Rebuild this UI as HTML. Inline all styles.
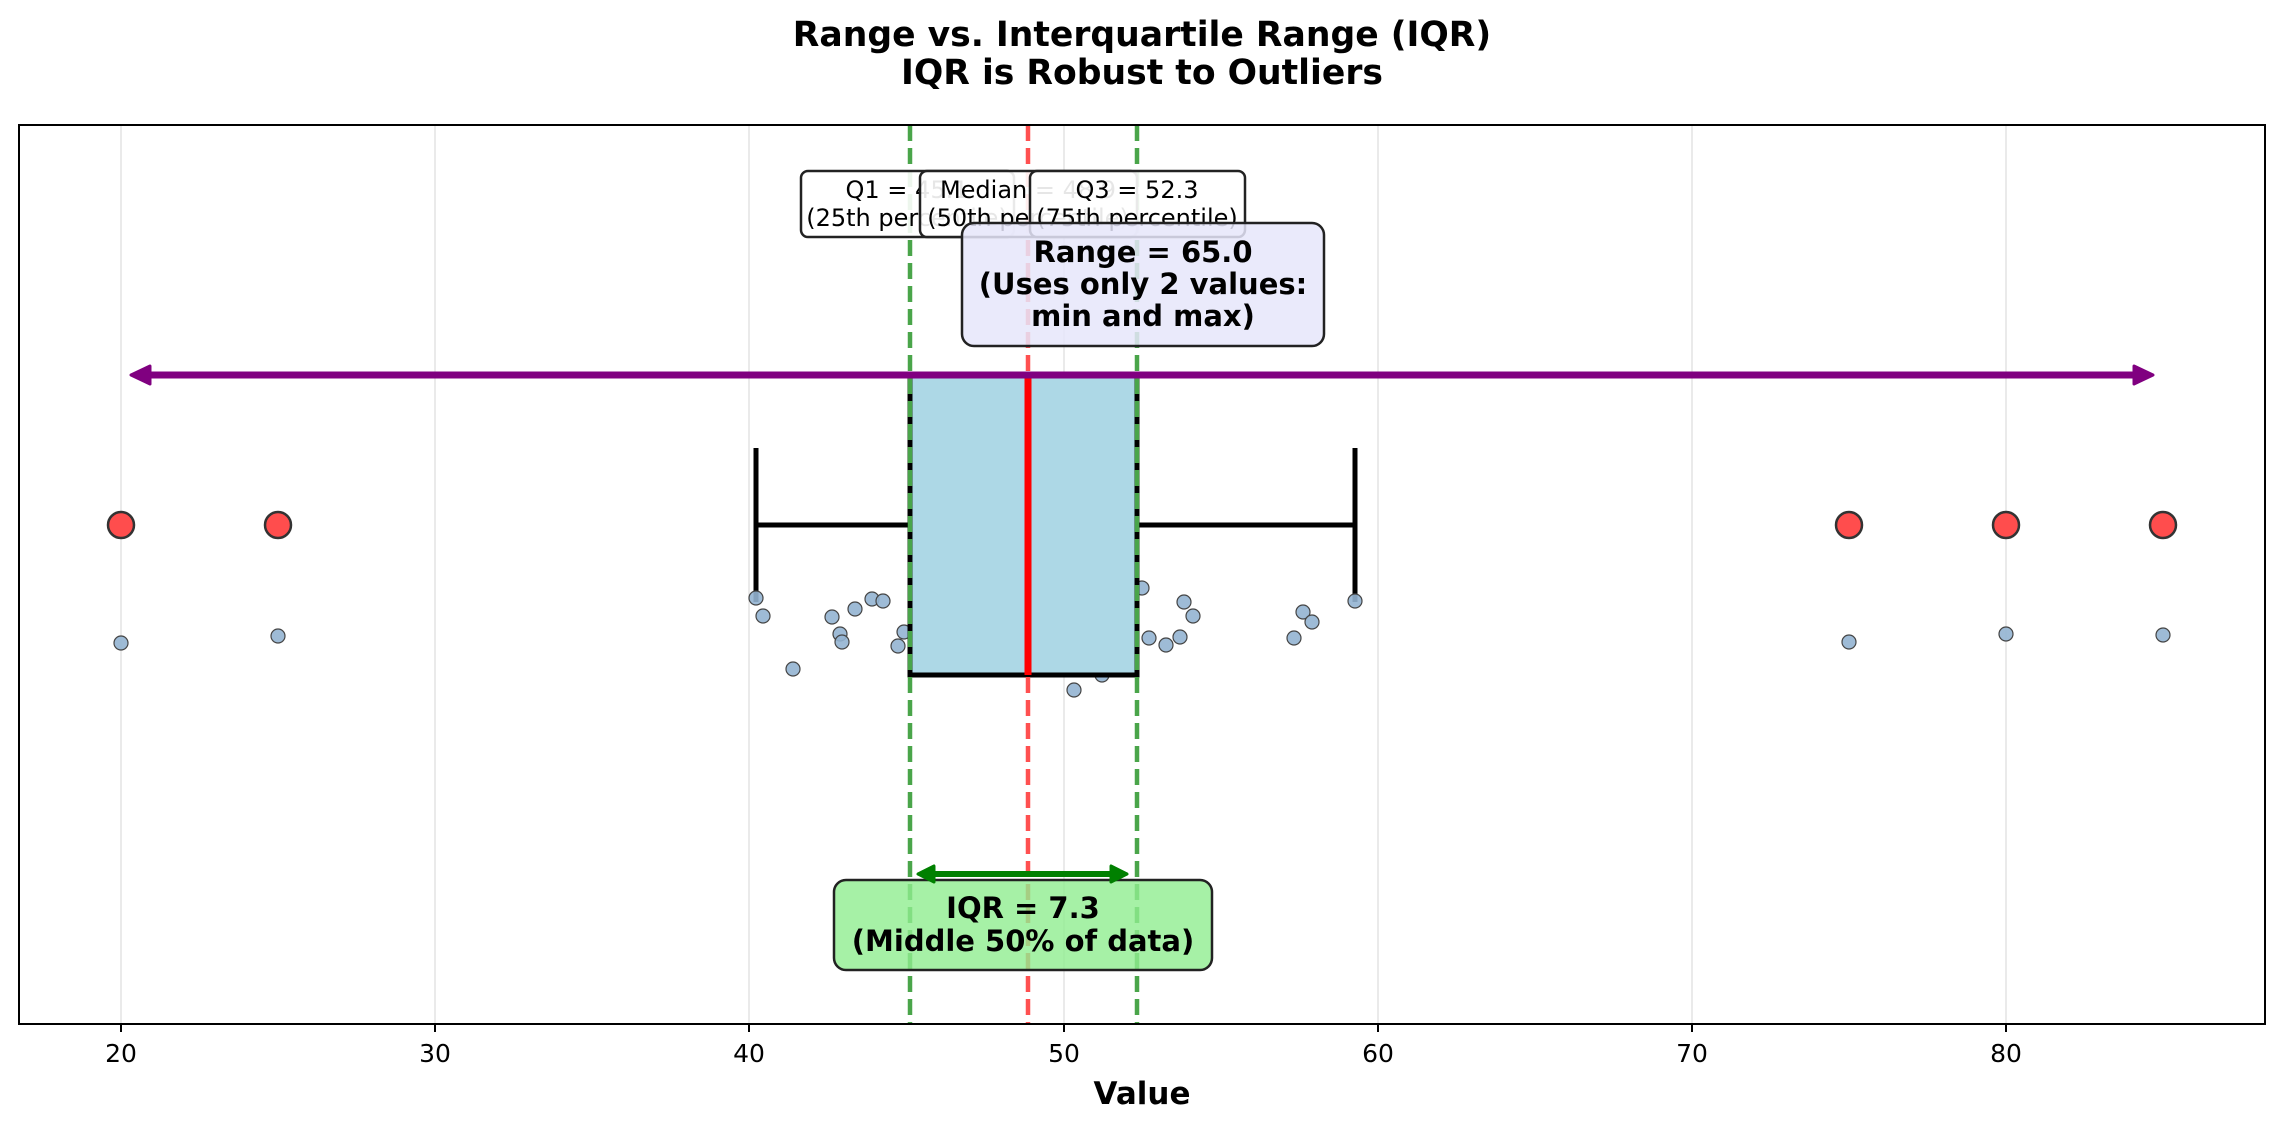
<!DOCTYPE html>
<html><head><meta charset="utf-8"><style>html,body{margin:0;padding:0;background:#fff}svg{display:block}</style></head>
<body>
<svg width="2284" height="1130" viewBox="0 0 2284 1130" xmlns="http://www.w3.org/2000/svg" font-family="DejaVu Sans, Liberation Sans, sans-serif">
<rect width="2284" height="1130" fill="#fff"/>
<text x="1142" y="46" font-size="34.6" font-weight="bold" text-anchor="middle">Range vs. Interquartile Range (IQR)</text>
<text x="1142" y="84" font-size="34.6" font-weight="bold" text-anchor="middle">IQR is Robust to Outliers</text>
<!-- grid -->
<g stroke="#e3e3e3" stroke-width="1.5">
<line x1="121" y1="125" x2="121" y2="1024"/><line x1="435" y1="125" x2="435" y2="1024"/><line x1="749" y1="125" x2="749" y2="1024"/><line x1="1064" y1="125" x2="1064" y2="1024"/><line x1="1378" y1="125" x2="1378" y2="1024"/><line x1="1692" y1="125" x2="1692" y2="1024"/><line x1="2006" y1="125" x2="2006" y2="1024"/>
</g>
<!-- whiskers -->
<g stroke="#000" stroke-width="5">
<line x1="756" y1="525" x2="910" y2="525"/><line x1="1137" y1="525" x2="1355" y2="525"/>
<line x1="756" y1="448" x2="756" y2="602"/><line x1="1355" y1="448" x2="1355" y2="602"/>
</g>
<!-- scatter -->
<g fill="#94b4d2" stroke="#444" stroke-width="1.2" fill-opacity="0.9">
<circle cx="756" cy="598" r="7"/><circle cx="763" cy="616" r="7"/><circle cx="832" cy="617" r="7"/><circle cx="855" cy="609" r="7"/><circle cx="872" cy="599" r="7"/><circle cx="883" cy="601" r="7"/><circle cx="840" cy="634" r="7"/><circle cx="842" cy="642" r="7"/><circle cx="793" cy="669" r="7"/><circle cx="898" cy="646" r="7"/><circle cx="904" cy="632" r="7"/><circle cx="1142" cy="588" r="7"/><circle cx="1184" cy="602" r="7"/><circle cx="1193" cy="616" r="7"/><circle cx="1149" cy="638" r="7"/><circle cx="1166" cy="645" r="7"/><circle cx="1180" cy="637" r="7"/><circle cx="1303" cy="612" r="7"/><circle cx="1312" cy="622" r="7"/><circle cx="1294" cy="638" r="7"/><circle cx="1355" cy="601" r="7"/><circle cx="1074" cy="690" r="7"/><circle cx="1102" cy="675" r="7"/>
<circle cx="121" cy="643" r="7"/><circle cx="278" cy="636" r="7"/><circle cx="1849" cy="642" r="7"/><circle cx="2006" cy="634" r="7"/><circle cx="2163" cy="635" r="7"/>
</g>
<!-- box -->
<rect x="910" y="376" width="227" height="299" fill="#add8e6" stroke="#000" stroke-width="5"/>
<!-- outliers -->
<g fill="#ff4d4d" stroke="#333" stroke-width="2.5">
<circle cx="121" cy="525" r="13"/><circle cx="278" cy="525" r="13"/><circle cx="1849" cy="525" r="13"/><circle cx="2006" cy="525" r="13"/><circle cx="2163" cy="525" r="13"/>
</g>
<!-- dashed lines -->
<g stroke-width="4.5" stroke-dasharray="16,7" fill="none">
<line x1="910" y1="125" x2="910" y2="1024" stroke="#4aa54a"/>
<line x1="1137" y1="125" x2="1137" y2="1024" stroke="#4aa54a"/>
<line x1="1028" y1="125" x2="1028" y2="1024" stroke="#ff5050"/>
</g>
<line x1="1028" y1="376" x2="1028" y2="675" stroke="#ff0000" stroke-width="7"/>
<!-- purple arrow -->
<line x1="140" y1="375" x2="2144" y2="375" stroke="#800080" stroke-width="7"/>
<polygon points="131,375 150,366 150,384" fill="#800080" stroke="#800080" stroke-width="3" stroke-linejoin="round"/>
<polygon points="2153,375 2134,366 2134,384" fill="#800080" stroke="#800080" stroke-width="3" stroke-linejoin="round"/>
<!-- quartile labels -->
<g font-size="24" text-anchor="middle">
<rect x="801" y="171" width="213" height="66" rx="7" fill="#fff" fill-opacity="0.9" stroke="#222" stroke-width="2.5"/>
<text x="907" y="198">Q1 = 45.1</text><text x="907" y="226">(25th percentile)</text>
<rect x="920" y="171" width="217" height="66" rx="7" fill="#fff" fill-opacity="0.9" stroke="#222" stroke-width="2.5"/>
<text x="1028" y="198">Median = 48.9</text><text x="1028" y="226">(50th percentile)</text>
<rect x="1030" y="171" width="215" height="66" rx="7" fill="#fff" fill-opacity="0.9" stroke="#222" stroke-width="2.5"/>
<text x="1137" y="198">Q3 = 52.3</text><text x="1137" y="226">(75th percentile)</text>
</g>
<!-- range box -->
<rect x="962" y="223" width="362" height="123" rx="12" fill="#e6e6fa" fill-opacity="0.85" stroke="#222" stroke-width="2.5"/>
<g font-size="29" font-weight="bold" text-anchor="middle">
<text x="1143" y="262">Range = 65.0</text><text x="1143" y="294">(Uses only 2 values:</text><text x="1143" y="326">min and max)</text>
</g>
<!-- IQR -->
<rect x="834" y="880" width="378" height="90" rx="12" fill="#90ee90" fill-opacity="0.8" stroke="#222" stroke-width="2.5"/>
<line x1="926" y1="874" x2="1119" y2="874" stroke="#008000" stroke-width="6"/>
<polygon points="918,874 934,866 934,882" fill="#008000" stroke="#008000" stroke-width="3" stroke-linejoin="round"/>
<polygon points="1127,874 1111,866 1111,882" fill="#008000" stroke="#008000" stroke-width="3" stroke-linejoin="round"/>
<g font-size="29" font-weight="bold" text-anchor="middle">
<text x="1023" y="918">IQR = 7.3</text><text x="1023" y="951">(Middle 50% of data)</text>
</g>
<!-- axes -->
<rect x="19" y="125" width="2246" height="899" fill="none" stroke="#000" stroke-width="2"/>
<g stroke="#000" stroke-width="2">
<line x1="121" y1="1024" x2="121" y2="1032"/><line x1="435" y1="1024" x2="435" y2="1032"/><line x1="749" y1="1024" x2="749" y2="1032"/><line x1="1064" y1="1024" x2="1064" y2="1032"/><line x1="1378" y1="1024" x2="1378" y2="1032"/><line x1="1692" y1="1024" x2="1692" y2="1032"/><line x1="2006" y1="1024" x2="2006" y2="1032"/>
</g>
<g font-size="25" text-anchor="middle">
<text x="121" y="1062">20</text><text x="435" y="1062">30</text><text x="749" y="1062">40</text><text x="1064" y="1062">50</text><text x="1378" y="1062">60</text><text x="1692" y="1062">70</text><text x="2006" y="1062">80</text>
</g>
<text x="1142" y="1104" font-size="31" font-weight="bold" text-anchor="middle">Value</text>
</svg>
</body></html>
